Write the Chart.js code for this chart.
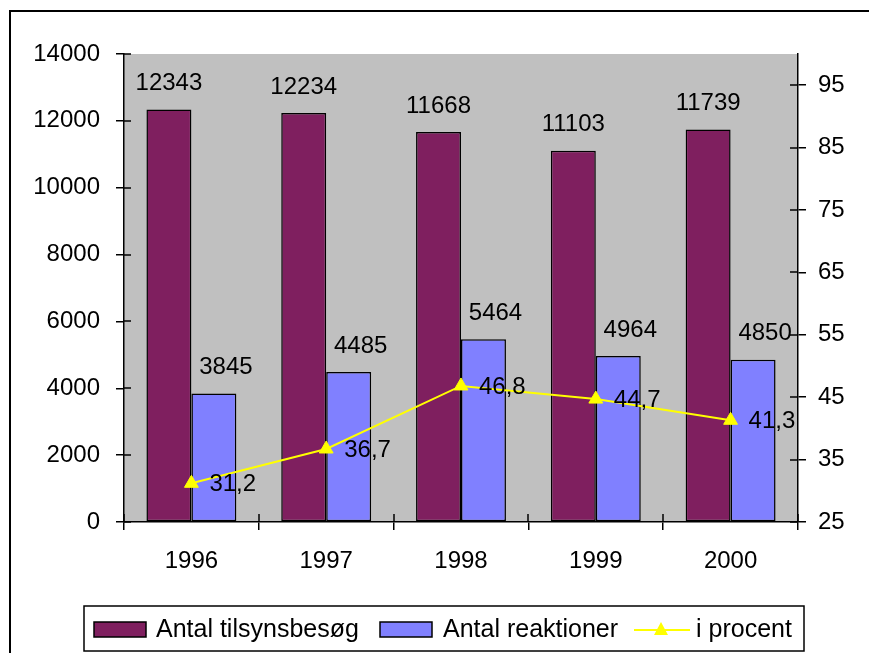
<!DOCTYPE html>
<html>
<head>
<meta charset="utf-8">
<script src="https://cdn.jsdelivr.net/npm/chart.js@4"></script>
<style>
  html, body { margin: 0; padding: 0; background: #fff; }
  canvas { display: block; }
</style>
</head>
<body>
<canvas id="chart" width="869" height="653"></canvas>
<script>
const years = ['1996', '1997', '1998', '1999', '2000'];
const visits = [12343, 12234, 11668, 11103, 11739];
const reactions = [3845, 4485, 5464, 4964, 4850];
const percent = [31.2, 36.7, 46.8, 44.7, 41.3];
const rightTicks = [25, 35, 45, 55, 65, 75, 85, 95];

const FAMILY = '"Liberation Sans", Arial, sans-serif';
const FONT = '24px ' + FAMILY;
Chart.defaults.font.family = FAMILY;
Chart.defaults.font.size = 24;
Chart.defaults.color = '#000';

// white page, outer frame and grey plot area
const background = {
    id: 'background',
    beforeDraw(chart) {
        const { ctx, chartArea: a } = chart;
        ctx.save();
        ctx.fillStyle = '#fff';
        ctx.fillRect(0, 0, chart.width, chart.height);
        ctx.fillStyle = '#C0C0C0';
        ctx.fillRect(a.left, a.top, a.right - a.left, a.bottom - a.top);
        ctx.strokeStyle = '#000';
        ctx.lineWidth = 2;
        ctx.beginPath();
        ctx.moveTo(10, chart.height + 5);
        ctx.lineTo(10, 11);
        ctx.lineTo(chart.width + 5, 11);
        ctx.stroke();
        ctx.restore();
    }
};

// the inner half of the crossing tick marks
const innerTicks = {
    id: 'innerTicks',
    afterDraw(chart) {
        const { ctx, chartArea: a, scales } = chart;
        ctx.save();
        ctx.strokeStyle = '#000';
        ctx.lineWidth = 1.5;
        ctx.beginPath();
        scales.y.ticks.forEach(t => {
            const y = Math.round(scales.y.getPixelForValue(t.value));
            ctx.moveTo(a.left, y);
            ctx.lineTo(a.left + 7, y);
        });
        scales.y1.ticks.forEach(t => {
            const y = Math.round(scales.y1.getPixelForValue(t.value));
            ctx.moveTo(a.right - 8, y);
            ctx.lineTo(a.right, y);
        });
        const n = years.length;
        for (let i = 0; i <= n; i++) {
            const x = Math.round(a.left + i * (a.right - a.left) / n);
            ctx.moveTo(x, a.bottom - 8);
            ctx.lineTo(x, a.bottom);
        }
        ctx.stroke();
        ctx.restore();
    }
};

// value labels on bars and line points
const valueLabels = {
    id: 'valueLabels',
    afterDatasetsDraw(chart) {
        const { ctx } = chart;
        ctx.save();
        ctx.font = FONT;
        ctx.fillStyle = '#000';
        ctx.textBaseline = 'middle';
        [0, 1].forEach(di => {
            const shift = di === 1 ? 12 : 0;
            chart.getDatasetMeta(di).data.forEach((bar, i) => {
                ctx.textAlign = 'center';
                ctx.fillText(String(chart.data.datasets[di].data[i]), bar.x + shift, bar.y - 26);
            });
        });
        chart.getDatasetMeta(2).data.forEach((pt, i) => {
            ctx.textAlign = 'left';
            ctx.fillText(percent[i].toFixed(1).replace('.', ','), pt.x + 18, pt.y + 1);
        });
        ctx.restore();
    }
};

// legend box at the bottom
const legendBox = {
    id: 'legendBox',
    afterDraw(chart) {
        const { ctx } = chart;
        const ds = chart.data.datasets;
        ctx.save();
        ctx.strokeStyle = '#000';
        ctx.lineWidth = 1.5;
        ctx.strokeRect(84, 606, 720, 45);
        ctx.font = '25px ' + FAMILY;
        ctx.fillStyle = '#000';
        ctx.textBaseline = 'middle';
        ctx.textAlign = 'left';
        const cy = 630;
        // bar swatches
        [[0, 94, 156], [1, 380, 443]].forEach(([di, sx, tx]) => {
            ctx.fillStyle = ds[di].backgroundColor;
            ctx.fillRect(sx, cy - 8, 52, 15);
            ctx.strokeStyle = '#000';
            ctx.lineWidth = 1.5;
            ctx.strokeRect(sx, cy - 8, 52, 15);
            ctx.fillStyle = '#000';
            ctx.fillText(ds[di].label, tx, cy);
        });
        // line swatch with triangle
        ctx.strokeStyle = ds[2].borderColor;
        ctx.lineWidth = 2;
        ctx.beginPath();
        ctx.moveTo(634, cy);
        ctx.lineTo(690, cy);
        ctx.stroke();
        ctx.fillStyle = ds[2].backgroundColor;
        ctx.beginPath();
        ctx.moveTo(661, cy - 8);
        ctx.lineTo(668, cy + 5);
        ctx.lineTo(654, cy + 5);
        ctx.closePath();
        ctx.fill();
        ctx.fillStyle = '#000';
        ctx.fillText(ds[2].label, 696, cy);
        ctx.restore();
    }
};

new Chart(document.getElementById('chart'), {
    type: 'bar',
    data: {
        labels: years,
        datasets: [
            {
                label: 'Antal tilsynsbesøg',
                data: visits,
                backgroundColor: '#7F1F5F',
                borderColor: '#000',
                borderWidth: 1.5,
                borderSkipped: false,
                yAxisID: 'y',
                categoryPercentage: 0.667,
                barPercentage: 1,
                order: 1
            },
            {
                label: 'Antal reaktioner',
                data: reactions,
                backgroundColor: '#8080FF',
                borderColor: '#000',
                borderWidth: 1.5,
                borderSkipped: false,
                yAxisID: 'y',
                categoryPercentage: 0.667,
                barPercentage: 1,
                order: 1
            },
            {
                type: 'line',
                label: 'i procent',
                data: percent,
                yAxisID: 'y1',
                borderColor: '#FFFF00',
                backgroundColor: '#FFFF00',
                borderWidth: 2,
                pointStyle: 'triangle',
                pointRadius: 8,
                pointBorderWidth: 1,
                pointBorderColor: '#FFFF00',
                pointBackgroundColor: '#FFFF00',
                tension: 0,
                order: 0
            }
        ]
    },
    options: {
        responsive: false,
        animation: false,
        layout: { padding: { top: 54, left: 0, right: 0, bottom: 0 } },
        plugins: {
            legend: { display: false },
            tooltip: { enabled: false }
        },
        scales: {
            x: {
                offset: true,
                grid: { offset: true, drawOnChartArea: false, tickLength: 8, color: '#000', lineWidth: 1.5 },
                border: { color: '#000', width: 1.5 },
                ticks: { padding: 17 },
                afterFit(s) { s.height = 131; }
            },
            y: {
                position: 'left',
                min: 0,
                max: 14000,
                ticks: { stepSize: 2000, padding: 16, callback: v => String(v) },
                grid: { drawOnChartArea: false, tickLength: 8, color: '#000', lineWidth: 1.5 },
                border: { color: '#000', width: 1.5 },
                afterFit(s) { s.width = 124; }
            },
            y1: {
                position: 'right',
                min: 25,
                max: 100,
                afterBuildTicks(s) { s.ticks = rightTicks.map(v => ({ value: v })); },
                ticks: { padding: 12, callback: v => String(v) },
                grid: { drawOnChartArea: false, tickLength: 8, color: '#000', lineWidth: 1.5 },
                border: { color: '#000', width: 1.5 },
                afterFit(s) { s.width = 71; }
            }
        }
    },
    plugins: [background, innerTicks, valueLabels, legendBox]
});
</script>
</body>
</html>
